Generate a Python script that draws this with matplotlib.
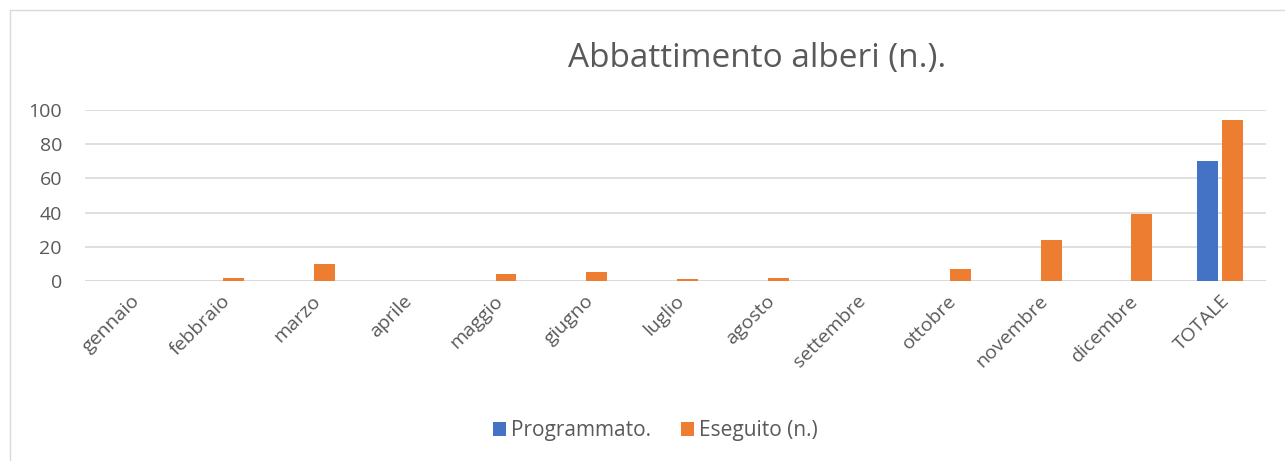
import matplotlib.pyplot as plt
import numpy as np
from matplotlib.patches import Rectangle

plt.rcParams['font.family'] = ['Open Sans', 'DejaVu Sans']

mesi = ['gennaio', 'febbraio', 'marzo', 'aprile', 'maggio', 'giugno', 'luglio',
        'agosto', 'settembre', 'ottobre', 'novembre', 'dicembre', 'TOTALE']
programmato = [0, 0, 0, 0, 0, 0, 0, 0, 0, 0, 0, 0, 70]
eseguito = [0, 2, 10, 0, 4, 5, 1, 2, 0, 7, 24, 39, 94]

c_blue = '#4472C4'
c_orange = '#ED7D31'
grey = '#595959'

fig = plt.figure(figsize=(12.85, 4.61), dpi=100)
ax = fig.add_axes([0.066, 0.3905, 0.919, 0.371])

x = np.arange(len(mesi))
w = 0.23
ax.bar(x - w/2 - 0.022, programmato, w, color=c_blue, label='Programmato.')
ax.bar(x + w/2 + 0.022, eseguito, w, color=c_orange, label='Eseguito (n.)')

ax.set_xlim(-0.5, len(mesi) - 0.5)
ax.set_ylim(0, 100)
ax.set_yticks(range(0, 101, 20))
ax.yaxis.grid(True, color='#D9D9D9', linewidth=1.2)
ax.set_axisbelow(True)
for s in ax.spines.values():
    s.set_visible(False)
ax.axhline(0, color='#D9D9D9', linewidth=1.2, zorder=0)
ax.tick_params(axis='x', length=0, labelsize=14, colors=grey)
ax.tick_params(axis='y', length=0, labelsize=14, colors=grey, pad=16.5)
ax.set_xticks(x)
ax.set_xticklabels(mesi, rotation=45, ha='right', rotation_mode='anchor')
for t in ax.get_xticklabels():
    t.set_y(-0.035)

fig.text(0.589, 0.874, 'Abbattimento alberi (n.).', ha='center', va='center',
         fontsize=24, color=grey)

leg = fig.legend(loc='center', bbox_to_anchor=(0.51, 0.066), ncol=2, frameon=False,
                 fontsize=15, handlelength=0.65, handleheight=0.65, handletextpad=0.25,
                 columnspacing=1.4)
for t in leg.get_texts():
    t.set_color(grey)

fig.patches.append(Rectangle((0.008, -0.1), 1.1, 1.078, transform=fig.transFigure,
                             fill=False, edgecolor='#D9D9D9', linewidth=1))

fig.savefig('out.png', dpi=100)
